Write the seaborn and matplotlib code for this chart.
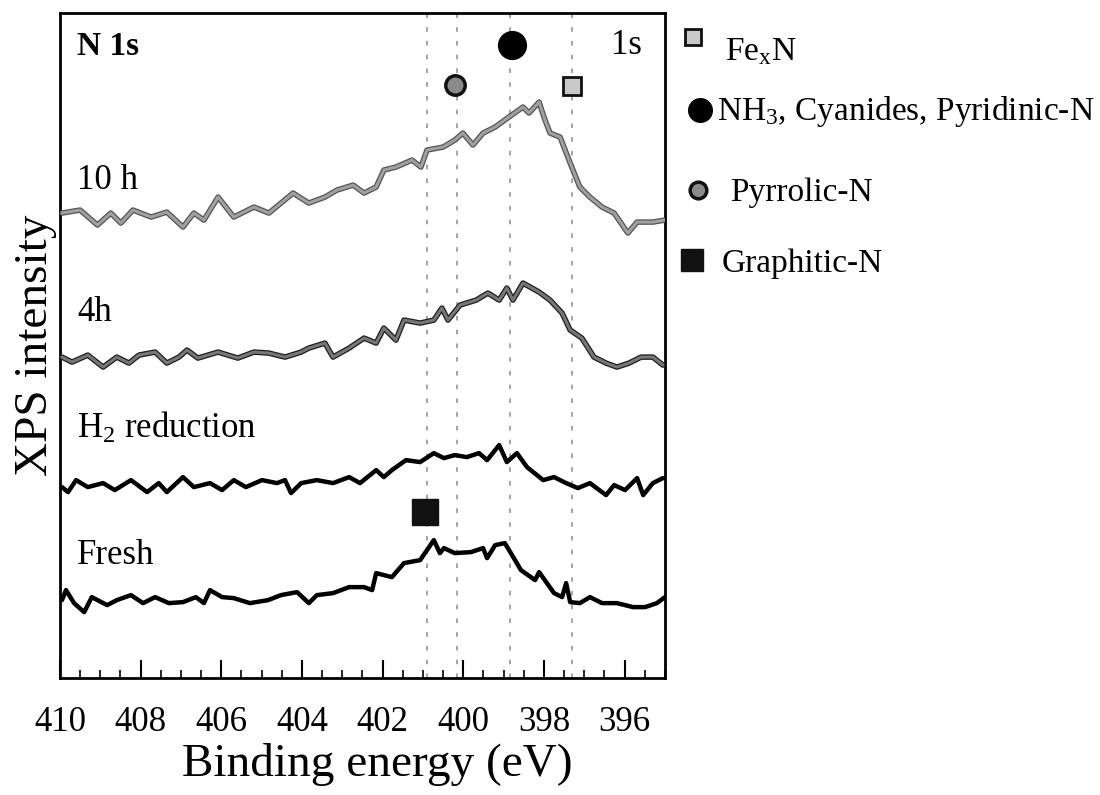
import matplotlib
matplotlib.use("Agg")
import matplotlib.pyplot as plt
import matplotlib.patheffects as pe
from matplotlib.ticker import MultipleLocator
import seaborn as sns
import pandas as pd

# ---------------- data ----------------
energy_10h = [409.95, 409.50, 409.07, 408.74, 408.49, 408.19, 407.74, 407.35, 406.95, 406.68,
              406.43, 406.08, 405.69, 405.19, 404.82, 404.22, 403.83, 403.43, 403.13, 402.73,
              402.46, 402.16, 401.97, 401.67, 401.27, 401.05, 400.90, 400.50, 400.21, 400.01,
              399.76, 399.51, 399.21, 398.87, 398.52, 398.37, 398.12, 398.00, 397.85, 397.60,
              397.35, 397.11, 396.86, 396.56, 396.26, 395.92, 395.69, 395.30, 395.00]
inten_10h = [4.65, 4.68, 4.53, 4.65, 4.55, 4.68, 4.61, 4.66, 4.51, 4.65,
             4.58, 4.81, 4.61, 4.71, 4.65, 4.85, 4.75, 4.81, 4.88, 4.93,
             4.85, 4.91, 5.08, 5.11, 5.18, 5.11, 5.28, 5.31, 5.38, 5.45,
             5.33, 5.45, 5.51, 5.61, 5.71, 5.65, 5.76, 5.61, 5.45, 5.41,
             5.15, 4.91, 4.81, 4.71, 4.65, 4.45, 4.56, 4.56, 4.58]

energy_4h = [409.95, 409.70, 409.31, 408.93, 408.59, 408.29, 408.04, 407.64, 407.35, 407.05,
             406.85, 406.58, 406.08, 405.59, 405.19, 404.82, 404.42, 404.02, 403.83, 403.43,
             403.23, 402.83, 402.46, 402.16, 401.97, 401.67, 401.47, 401.07, 400.73, 400.53,
             400.38, 400.08, 399.68, 399.39, 399.11, 398.92, 398.77, 398.52, 398.12, 397.85,
             397.55, 397.35, 397.06, 396.76, 396.46, 396.19, 395.89, 395.59, 395.30, 395.05]
inten_4h = [3.21, 3.16, 3.23, 3.11, 3.21, 3.15, 3.23, 3.26, 3.15, 3.21,
            3.28, 3.20, 3.26, 3.20, 3.26, 3.25, 3.21, 3.26, 3.30, 3.35,
            3.21, 3.30, 3.40, 3.35, 3.50, 3.38, 3.58, 3.55, 3.58, 3.70,
            3.58, 3.73, 3.78, 3.85, 3.78, 3.90, 3.78, 3.95, 3.86, 3.78,
            3.65, 3.48, 3.40, 3.21, 3.15, 3.11, 3.15, 3.21, 3.21, 3.13]

energy_h2 = [409.95, 409.80, 409.60, 409.31, 408.93, 408.64, 408.24, 407.84, 407.55, 407.35,
             406.95, 406.68, 406.28, 405.98, 405.69, 405.39, 404.99, 404.62, 404.42, 404.27,
             404.02, 403.63, 403.23, 402.83, 402.56, 402.16, 401.97, 401.77, 401.42, 401.07,
             400.73, 400.48, 400.21, 399.91, 399.61, 399.41, 399.11, 398.92, 398.67, 398.42,
             398.02, 397.75, 397.45, 397.16, 396.86, 396.46, 396.26, 395.99, 395.69, 395.54,
             395.30, 395.05]
inten_h2 = [1.91, 1.86, 1.98, 1.91, 1.95, 1.88, 1.98, 1.86, 1.95, 1.86,
            2.01, 1.91, 1.95, 1.88, 1.98, 1.91, 1.98, 1.95, 1.98, 1.85,
            1.95, 1.98, 1.95, 2.01, 1.95, 2.08, 2.01, 2.08, 2.18, 2.16,
            2.25, 2.20, 2.23, 2.21, 2.25, 2.18, 2.33, 2.16, 2.25, 2.11,
            1.98, 2.01, 1.95, 1.90, 1.95, 1.83, 1.93, 1.88, 2.00, 1.83,
            1.95, 2.00]

energy_fresh = [409.95, 409.85, 409.65, 409.40, 409.21, 408.83, 408.59, 408.24, 407.94, 407.64,
                407.30, 406.95, 406.63, 406.43, 406.28, 405.98, 405.69, 405.29, 404.84, 404.52,
                404.12, 403.83, 403.63, 403.23, 402.83, 402.46, 402.26, 402.16, 401.77, 401.47,
                401.07, 400.73, 400.58, 400.48, 400.21, 399.81, 399.51, 399.41, 399.21, 398.97,
                398.82, 398.57, 398.22, 398.12, 397.75, 397.55, 397.45, 397.35, 397.11, 396.86,
                396.56, 396.19, 395.79, 395.49, 395.20, 395.00]
inten_fresh = [0.78, 0.88, 0.75, 0.66, 0.81, 0.73, 0.78, 0.83, 0.75, 0.81,
               0.75, 0.76, 0.81, 0.75, 0.88, 0.81, 0.80, 0.75, 0.78, 0.83,
               0.86, 0.75, 0.83, 0.85, 0.91, 0.91, 0.88, 1.05, 1.01, 1.15,
               1.18, 1.38, 1.25, 1.30, 1.25, 1.26, 1.30, 1.20, 1.33, 1.35,
               1.25, 1.08, 0.98, 1.06, 0.85, 0.81, 0.95, 0.76, 0.75, 0.81,
               0.75, 0.75, 0.71, 0.71, 0.75, 0.81]

series_names = ["10 h", "4h", "H$_{2}$ reduction", "Fresh"]
peak_lines = [400.9, 400.15, 398.85, 397.3]

# species markers (energy, height)
marker_labels = ["Fe$_{\\rm x}$N", "NH$_{3}$, Cyanides, Pyridinic-N", "Pyrrolic-N", "Graphitic-N"]
marker_energy = [397.3, 398.8, 400.2, 400.95]
marker_height = [5.92, 6.33, 5.93, 1.66]

tick_values = [410, 408, 406, 404, 402, 400, 398, 396]

# ---------------- style ----------------
sns.set_theme(style="white")
plt.rcParams["font.family"] = ["Liberation Serif", "DejaVu Serif"]
plt.rcParams["mathtext.fontset"] = "custom"
plt.rcParams["mathtext.rm"] = "Liberation Serif"
plt.rcParams["mathtext.it"] = "Liberation Serif:italic"
plt.rcParams["mathtext.bf"] = "Liberation Serif:bold"
for key in ["text.color", "axes.labelcolor", "xtick.color", "ytick.color", "axes.edgecolor"]:
    plt.rcParams[key] = "black"

fig = plt.figure(figsize=(11, 7.95), dpi=100)
ax = fig.add_axes([0.0545, 0.147, 0.55, 0.8366])

df = pd.concat([
    pd.DataFrame({"energy": energy_10h, "intensity": inten_10h, "sample": series_names[0]}),
    pd.DataFrame({"energy": energy_4h, "intensity": inten_4h, "sample": series_names[1]}),
    pd.DataFrame({"energy": energy_h2, "intensity": inten_h2, "sample": series_names[2]}),
    pd.DataFrame({"energy": energy_fresh, "intensity": inten_fresh, "sample": series_names[3]}),
])

styles = {
    series_names[0]: dict(color="#a0a0a0", lw=2.2, edge="#555555", elw=4.0),
    series_names[1]: dict(color="#777777", lw=2.2, edge="#1e1e1e", elw=4.0),
    series_names[2]: dict(color="#000000", lw=3.2, edge=None, elw=0),
    series_names[3]: dict(color="#000000", lw=3.2, edge=None, elw=0),
}

for x in peak_lines:
    ax.axvline(x, color="#8c8c8c", lw=1.1, ls=(0, (3, 6)), zorder=1)

for name in series_names:
    st = styles[name]
    sub = df[df["sample"] == name]
    n_before = len(ax.lines)
    sns.lineplot(data=sub, x="energy", y="intensity", ax=ax, sort=False,
                 estimator=None, color=st["color"], lw=st["lw"], legend=False, zorder=3)
    line = ax.lines[n_before]
    if st["edge"]:
        line.set_path_effects([pe.Stroke(linewidth=st["elw"], foreground=st["edge"]), pe.Normal()])

# species markers on the plot
mk_style = [
    dict(marker="s", ms=13, mfc="#c8c8c8", mec="#111111", mew=2.0),
    dict(marker="o", ms=20, mfc="#000000", mec="#000000", mew=1.0),
    dict(marker="o", ms=14, mfc="#8a8a8a", mec="#111111", mew=2.5),
    dict(marker="s", ms=19, mfc="#111111", mec="#111111", mew=1.0),
]
for e, h, st in zip(marker_energy, marker_height, mk_style):
    ax.plot([e], [h], ls="none", zorder=4, **st)

# key placed to the right of the frame (axes-fraction layout positions)
key_marker_pos = [(1.046, 0.964), (1.058, 0.854), (1.055, 0.734), (1.045, 0.629)]
key_text_pos = [(1.099, 0.929), (1.086, 0.839), (1.107, 0.717), (1.094, 0.611)]
key_ms = [12, 17, 12, 16]
for st, (mx, my), (tx, ty), lab, ms in zip(mk_style, key_marker_pos, key_text_pos,
                                           marker_labels, key_ms):
    s2 = dict(st)
    s2["ms"] = ms
    ax.plot([mx], [my], ls="none", transform=ax.transAxes, clip_on=False, **s2)
    ax.text(tx, ty, lab, transform=ax.transAxes, fontsize=24, ha="left", va="baseline")

# text annotations
ax.text(409.58, 6.23, "N 1s", fontsize=24, fontweight="bold", va="baseline", ha="left")
ax.text(395.57, 6.24, "1s", fontsize=25, va="baseline", ha="right")
ax.text(409.58, 4.89, "10 h", fontsize=25, va="baseline", ha="left")
ax.text(409.58, 3.57, "4h", fontsize=25, va="baseline", ha="left")
ax.text(409.58, 2.40, "H$_{2}$ reduction", fontsize=25, va="baseline", ha="left")
ax.text(409.58, 1.14, "Fresh", fontsize=25, va="baseline", ha="left")

# axes
ax.set_xlim(410, 395)
ax.set_ylim(0, 6.65)
ax.set_xticks(tick_values)
ax.set_xticklabels([str(t) for t in tick_values], fontsize=25)
ax.xaxis.set_minor_locator(MultipleLocator(0.5))
ax.tick_params(axis="x", which="major", direction="in", length=13, width=1.5,
               pad=20, bottom=True, top=False, colors="black")
ax.tick_params(axis="x", which="minor", direction="in", length=6, width=1.2,
               bottom=True, top=False)
ax.set_yticks([])
ax.set_xlabel("Binding energy (eV)", fontsize=34)
ax.xaxis.set_label_coords(0.525, -0.098)
ax.set_ylabel("XPS intensity", fontsize=34, labelpad=2)
for sp in ax.spines.values():
    sp.set_visible(True)
    sp.set_color("black")
    sp.set_linewidth(2.0)

fig.savefig("out.png", dpi=100)
